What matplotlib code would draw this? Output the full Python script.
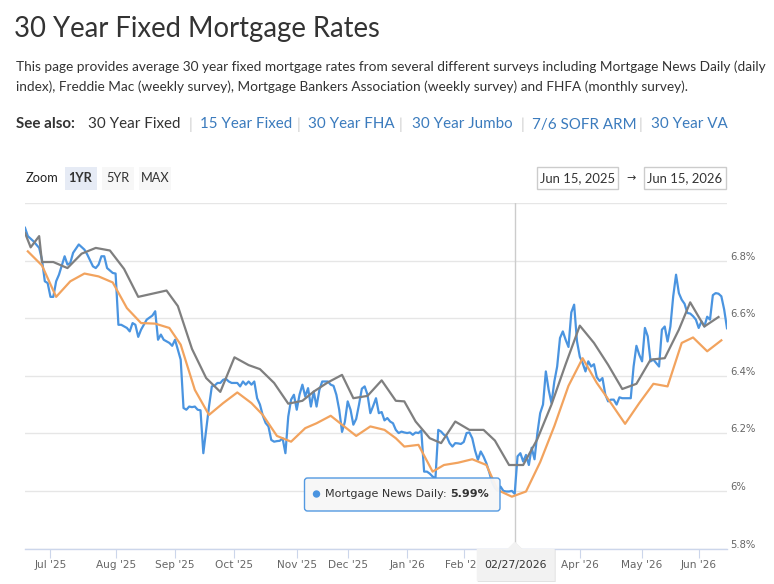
import numpy as np
import matplotlib
matplotlib.use("Agg")
import matplotlib.pyplot as plt
from matplotlib.patches import FancyBboxPatch, Polygon, Circle, Rectangle
from matplotlib.transforms import Affine2D, blended_transform_factory, ScaledTranslation

W, H = 774, 584
HEAD_FONT = ['Liberation Sans Narrow', 'Lato', 'DejaVu Sans']
CHART_FONT = ['DejaVu Sans']

# ordinal x axis: one step per business day, like the original chart
START = '2025-06-16'
HOLIDAYS = ['2025-06-19', '2025-09-01', '2025-10-13', '2025-11-11', '2025-11-27',
            '2025-12-25', '2025-12-26', '2026-01-01', '2026-01-19', '2026-02-16',
            '2026-05-25']

SERIES_NAMES = ['Mortgage News Daily', 'Freddie Mac', 'MBA']
COLORS = ['#4a94e0', '#f2a35e', '#7f7f7f']

MND_DATES = [
    '2025-06-17', '2025-06-18', '2025-06-23', '2025-06-25', '2025-06-26', '2025-06-27', '2025-06-30',
    '2025-07-01', '2025-07-02', '2025-07-03', '2025-07-04', '2025-07-08', '2025-07-09', '2025-07-10',
    '2025-07-11', '2025-07-15', '2025-07-17', '2025-07-18', '2025-07-22', '2025-07-23', '2025-07-24',
    '2025-07-25', '2025-07-28', '2025-07-29', '2025-07-31',
    '2025-08-01', '2025-08-04', '2025-08-05', '2025-08-07', '2025-08-08', '2025-08-11', '2025-08-12',
    '2025-08-13', '2025-08-14', '2025-08-18', '2025-08-20', '2025-08-21', '2025-08-22', '2025-08-25',
    '2025-08-26', '2025-08-28', '2025-08-29',
    '2025-09-02', '2025-09-03', '2025-09-04', '2025-09-05', '2025-09-08', '2025-09-09', '2025-09-10',
    '2025-09-11', '2025-09-12', '2025-09-15', '2025-09-16', '2025-09-17', '2025-09-18', '2025-09-19',
    '2025-09-22', '2025-09-23', '2025-09-24', '2025-09-25', '2025-09-26', '2025-09-29', '2025-09-30',
    '2025-10-01', '2025-10-02', '2025-10-03', '2025-10-06', '2025-10-07', '2025-10-08', '2025-10-09',
    '2025-10-10', '2025-10-14', '2025-10-15', '2025-10-16', '2025-10-17', '2025-10-20', '2025-10-21',
    '2025-10-22', '2025-10-23', '2025-10-24', '2025-10-27', '2025-10-28', '2025-10-29', '2025-10-30',
    '2025-10-31',
    '2025-11-03', '2025-11-04', '2025-11-05', '2025-11-06', '2025-11-07', '2025-11-10', '2025-11-12',
    '2025-11-13', '2025-11-14', '2025-11-17', '2025-11-18', '2025-11-19', '2025-11-20', '2025-11-21',
    '2025-11-24', '2025-11-25', '2025-11-26', '2025-11-28',
    '2025-12-01', '2025-12-02', '2025-12-03', '2025-12-04', '2025-12-05', '2025-12-08', '2025-12-09',
    '2025-12-10', '2025-12-11', '2025-12-12', '2025-12-15', '2025-12-16', '2025-12-17', '2025-12-18',
    '2025-12-19', '2025-12-22', '2025-12-23', '2025-12-24', '2025-12-29', '2025-12-30', '2025-12-31',
    '2026-01-02', '2026-01-05', '2026-01-06', '2026-01-07', '2026-01-08', '2026-01-09', '2026-01-12',
    '2026-01-13', '2026-01-14', '2026-01-15', '2026-01-16', '2026-01-20', '2026-01-21', '2026-01-22',
    '2026-01-23', '2026-01-26', '2026-01-27', '2026-01-28', '2026-01-29', '2026-01-30',
    '2026-02-02', '2026-02-03', '2026-02-04', '2026-02-05', '2026-02-06', '2026-02-09', '2026-02-10',
    '2026-02-11', '2026-02-12', '2026-02-13', '2026-02-17', '2026-02-18', '2026-02-19', '2026-02-20',
    '2026-02-23', '2026-02-24', '2026-02-25', '2026-02-26', '2026-02-27',
    '2026-03-02', '2026-03-03', '2026-03-04', '2026-03-05', '2026-03-06', '2026-03-09', '2026-03-10',
    '2026-03-11', '2026-03-12', '2026-03-13', '2026-03-16', '2026-03-17', '2026-03-18', '2026-03-19',
    '2026-03-20', '2026-03-23', '2026-03-24', '2026-03-25', '2026-03-26', '2026-03-27', '2026-03-30',
    '2026-03-31',
    '2026-04-01', '2026-04-02', '2026-04-03', '2026-04-06', '2026-04-07', '2026-04-08', '2026-04-09',
    '2026-04-10', '2026-04-13', '2026-04-14', '2026-04-15', '2026-04-16', '2026-04-17', '2026-04-20',
    '2026-04-21', '2026-04-22', '2026-04-23', '2026-04-24', '2026-04-27', '2026-04-28', '2026-04-29',
    '2026-04-30',
    '2026-05-01', '2026-05-04', '2026-05-05', '2026-05-06', '2026-05-07', '2026-05-08', '2026-05-11',
    '2026-05-12', '2026-05-13', '2026-05-14', '2026-05-15', '2026-05-18', '2026-05-19', '2026-05-20',
    '2026-05-21', '2026-05-22', '2026-05-26', '2026-05-27', '2026-05-28', '2026-05-29',
    '2026-06-01', '2026-06-02', '2026-06-03', '2026-06-04', '2026-06-05', '2026-06-08', '2026-06-09',
    '2026-06-10', '2026-06-11', '2026-06-12', '2026-06-15',
]
MND_RATES = [
    6.914, 6.885, 6.867, 6.844, 6.803, 6.728, 6.722,
    6.674, 6.674, 6.728, 6.751, 6.815, 6.786, 6.792,
    6.827, 6.856, 6.838, 6.821, 6.780, 6.774, 6.786,
    6.815, 6.815, 6.774, 6.757,
    6.755, 6.577, 6.577, 6.566, 6.554, 6.583, 6.577,
    6.535, 6.560, 6.595, 6.609, 6.624, 6.525, 6.543,
    6.525, 6.514, 6.504,
    6.525, 6.490, 6.456, 6.288, 6.282, 6.293, 6.291,
    6.293, 6.282, 6.280, 6.131, 6.212, 6.293, 6.363,
    6.366, 6.375, 6.375, 6.386, 6.389, 6.380, 6.375,
    6.375, 6.375, 6.363, 6.380, 6.369, 6.380, 6.369,
    6.380, 6.322, 6.300, 6.262, 6.236, 6.224, 6.177,
    6.171, 6.173, 6.174, 6.183, 6.131, 6.258, 6.317,
    6.334,
    6.282, 6.335, 6.369, 6.328, 6.357, 6.293, 6.345,
    6.293, 6.351, 6.380, 6.380, 6.380, 6.369, 6.365,
    6.334, 6.282, 6.205, 6.240,
    6.311, 6.282, 6.230, 6.250, 6.300, 6.355, 6.363,
    6.334, 6.270, 6.295, 6.322, 6.270, 6.274, 6.245,
    6.253, 6.241, 6.235, 6.212, 6.201, 6.206, 6.203,
    6.201, 6.203, 6.195, 6.203, 6.201, 6.210, 6.067,
    6.067, 6.060, 6.050, 6.044, 6.212, 6.206, 6.195,
    6.189, 6.166, 6.154, 6.166, 6.165, 6.163,
    6.170, 6.201, 6.203, 6.183, 6.140, 6.108, 6.137,
    6.119, 6.096, 6.065, 6.030, 6.010, 6.000, 6.015,
    6.000, 5.998, 5.998, 6.000, 5.990,
    6.120, 6.131, 6.102, 6.125, 6.090, 6.150, 6.110,
    6.200, 6.270, 6.300, 6.415, 6.351, 6.305, 6.380,
    6.432, 6.531, 6.554, 6.525, 6.500, 6.620, 6.647,
    6.520,
    6.466, 6.444, 6.415, 6.450, 6.432, 6.440, 6.395,
    6.382, 6.392, 6.335, 6.311, 6.317, 6.317, 6.300,
    6.325, 6.322, 6.322, 6.322, 6.322, 6.432, 6.504,
    6.473,
    6.450, 6.566, 6.537, 6.450, 6.456, 6.444, 6.432,
    6.560, 6.571, 6.519, 6.571, 6.676, 6.751, 6.687,
    6.664, 6.650, 6.618, 6.616, 6.607, 6.595,
    6.566, 6.589, 6.571, 6.605, 6.595, 6.680, 6.687,
    6.685, 6.676, 6.630, 6.565,
]

FREDDIE_DATES = [
    '2025-06-18', '2025-06-26', '2025-07-03', '2025-07-10', '2025-07-17', '2025-07-24', '2025-07-31',
    '2025-08-07', '2025-08-14', '2025-08-21', '2025-08-28', '2025-09-04', '2025-09-11', '2025-09-18',
    '2025-09-25', '2025-10-02', '2025-10-09', '2025-10-16', '2025-10-23', '2025-10-30', '2025-11-06',
    '2025-11-13', '2025-11-20', '2025-11-26', '2025-12-04', '2025-12-11', '2025-12-18', '2025-12-24',
    '2025-12-31', '2026-01-08', '2026-01-15', '2026-01-22', '2026-01-29', '2026-02-05', '2026-02-12',
    '2026-02-19', '2026-02-26', '2026-03-05', '2026-03-12', '2026-03-19', '2026-03-26', '2026-04-02',
    '2026-04-09', '2026-04-16', '2026-04-23', '2026-04-30', '2026-05-07', '2026-05-14', '2026-05-21',
    '2026-05-28', '2026-06-04', '2026-06-11',
]
FREDDIE_RATES = [
    6.832, 6.783, 6.674, 6.728, 6.755, 6.745, 6.724,
    6.635, 6.583, 6.581, 6.566, 6.508, 6.351, 6.264,
    6.305, 6.342, 6.305, 6.264, 6.191, 6.171, 6.218,
    6.235, 6.261, 6.230, 6.191, 6.224, 6.212, 6.183,
    6.154, 6.160, 6.067, 6.090, 6.098, 6.110, 6.090,
    6.003, 5.980, 5.998, 6.100, 6.225, 6.365, 6.461,
    6.375, 6.305, 6.233, 6.305, 6.372, 6.363, 6.514,
    6.533, 6.485, 6.523,
]

MBA_DATES = [
    '2025-06-17', '2025-06-20', '2025-06-25', '2025-06-26', '2025-07-02', '2025-07-09', '2025-07-16',
    '2025-07-23', '2025-07-30', '2025-08-06', '2025-08-13', '2025-08-27', '2025-09-03', '2025-09-10',
    '2025-09-17', '2025-09-24', '2025-10-01', '2025-10-08', '2025-10-15', '2025-10-22', '2025-10-29',
    '2025-11-05', '2025-11-12', '2025-11-19', '2025-11-26', '2025-12-03', '2025-12-10', '2025-12-17',
    '2025-12-24', '2025-12-31', '2026-01-07', '2026-01-14', '2026-01-21', '2026-01-28', '2026-02-04',
    '2026-02-11', '2026-02-18', '2026-02-25', '2026-03-04', '2026-03-11', '2026-03-18', '2026-03-25',
    '2026-04-01', '2026-04-08', '2026-04-15', '2026-04-22', '2026-04-29', '2026-05-06', '2026-05-13',
    '2026-05-20', '2026-05-27', '2026-06-03', '2026-06-10',
]
MBA_RATES = [
    6.896, 6.846, 6.885, 6.795, 6.795, 6.774, 6.824,
    6.844, 6.835, 6.771, 6.674, 6.696, 6.642, 6.493,
    6.392, 6.344, 6.464, 6.437, 6.423, 6.375, 6.303,
    6.313, 6.345, 6.377, 6.403, 6.322, 6.330, 6.384,
    6.313, 6.311, 6.241, 6.183, 6.166, 6.241, 6.212,
    6.212, 6.175, 6.090, 6.090, 6.180, 6.300, 6.440,
    6.574, 6.514, 6.438, 6.354, 6.372, 6.456, 6.461,
    6.560, 6.655, 6.571, 6.604,
]

MONTH_STARTS = ['2025-07-01', '2025-08-01', '2025-09-01', '2025-10-01', '2025-11-01', '2025-12-01',
                '2026-01-01', '2026-02-01', '2026-03-01', '2026-04-01', '2026-05-01', '2026-06-01']
MONTH_LABELS = ["Jul '25", "Aug '25", "Sep '25", "Oct '25", "Nov '25", "Dec '25",
                "Jan '26", "Feb '26", "Mar '26", "Apr '26", "May '26", "Jun '26"]
Y_TICKS = [5.8, 6.0, 6.2, 6.4, 6.6, 6.8, 7.0]
Y_LABELS = ['5.8%', '6%', '6.2%', '6.4%', '6.6%', '6.8%', '']

HOVER_DATE = '2026-02-27'
HOVER_LABEL = '02/27/2026'
RANGE_FROM = 'Jun 15, 2025'
RANGE_TO = 'Jun 15, 2026'
ZOOM_BUTTONS = ['1YR', '5YR', 'MAX']

TITLE = '30 Year Fixed Mortgage Rates'
INTRO = ['This page provides average 30 year fixed mortgage rates from several different surveys including Mortgage News Daily (daily',
         'index), Freddie Mac (weekly survey), Mortgage Bankers Association (weekly survey) and FHFA (monthly survey).']
SEE_ALSO = ['30 Year Fixed', '15 Year Fixed', '30 Year FHA', '30 Year Jumbo', '7/6 SOFR ARM', '30 Year VA']


def bday(dates):
    return np.busday_count(START, np.array(dates, dtype='datetime64[D]'), holidays=HOLIDAYS)


fig = plt.figure(figsize=(W / 100, H / 100), dpi=100)
fig.patch.set_facecolor('white')
rend = fig.canvas.get_renderer()
# pixel coords, origin top-left
T = Affine2D().scale(1, -1).translate(0, H) + Affine2D().scale(1 / W, 1 / H) + fig.transFigure


def fitted(s, width, weight='normal', family=HEAD_FONT):
    t = fig.text(0, 0, s, fontsize=10, fontweight=weight, family=family)
    w = t.get_window_extent(renderer=rend).width
    t.remove()
    return 10 * width / w


# ---- page header ----
fig.text(14, 37.5, TITLE, transform=T, family=HEAD_FONT, color='#333333',
         fontsize=fitted(TITLE, 366), va='baseline')
fs_p = fitted(INTRO[0], 749)
fig.text(16, 71, INTRO[0], transform=T, family=HEAD_FONT, color='#333333', fontsize=fs_p, va='baseline')
fig.text(16, 91, INTRO[1], transform=T, family=HEAD_FONT, color='#333333', fontsize=fs_p, va='baseline')

fs_s = fitted(SEE_ALSO[3], 100)
fig.text(16, 128.5, 'See also:', transform=T, family=HEAD_FONT, color='#333333',
         fontsize=fs_s, fontweight='bold', va='baseline')
link_x = [88, 199.5, 308.5, 412, 532, 651]
sep_x = [190.5, 299, 401, 522, 641]
for i, (lx, name) in enumerate(zip(link_x, SEE_ALSO)):
    fig.text(lx, 128.5, name, transform=T, family=HEAD_FONT, fontsize=fs_s, va='baseline',
             color='#333333' if i == 0 else '#3b7bbd')
for sx in sep_x:
    fig.text(sx, 128.5, '|', transform=T, family=HEAD_FONT, fontsize=fs_s, va='baseline',
             color='#cccccc', ha='center')

# ---- range selector ----
fs_z = fitted('Zoom', 33)
fig.text(26, 178, 'Zoom', transform=T, family=HEAD_FONT, fontsize=fs_z, color='#222222', va='center')
btn_x = [(64.5, 96.5), (101.5, 133.5), (139, 171)]
for i, ((x0, x1), lab) in enumerate(zip(btn_x, ZOOM_BUTTONS)):
    fig.add_artist(Rectangle((x0, 166.5), x1 - x0, 23, transform=T,
                             fc='#e6ebf5' if i == 0 else '#f7f7f7', ec='none'))
    fig.text((x0 + x1) / 2, 178, lab, transform=T, family=HEAD_FONT, fontsize=fs_z,
             color='#333333', ha='center', va='center', fontweight='bold' if i == 0 else 'normal')

fs_d = fitted(RANGE_FROM, 75)
for (x0, x1), lab in zip([(536.5, 618), (643.5, 725.5)], [RANGE_FROM, RANGE_TO]):
    fig.add_artist(Rectangle((x0, 166.5), x1 - x0, 22, transform=T, fc='white', ec='#cccccc', lw=1))
    fig.text(x0 + 3.5, 178, lab, transform=T, family=HEAD_FONT, fontsize=fs_d,
             color='#333333', va='center')
fig.text(631, 178, '\u2192', transform=T, family=CHART_FONT, fontsize=8, color='#333333',
         ha='center', va='center')

# ---- chart ----
ax = fig.add_axes([25 / W, 1 - 548.5 / H, 702 / W, 345.5 / H])
ax.set_facecolor('white')

x_mnd = bday(MND_DATES)
x_fm = bday(FREDDIE_DATES)
x_mba = bday(MBA_DATES)

ax.plot(x_mnd, MND_RATES, color=COLORS[0], lw=1.6, solid_joinstyle='round', zorder=3)
ax.plot(x_fm, FREDDIE_RATES, color=COLORS[1], lw=1.6, solid_joinstyle='round', zorder=3)
ax.plot(x_mba, MBA_RATES, color=COLORS[2], lw=1.6, solid_joinstyle='round', zorder=3)

ax.set_xlim(x_mnd[0], x_mnd[-1])
ax.set_ylim(Y_TICKS[0], Y_TICKS[-1])

ax.set_yticks(Y_TICKS)
ax.tick_params(axis='y', left=False, labelleft=False)
ax.grid(axis='y', color='#e6e6e6', lw=1)
ax.set_axisbelow(True)

ax.set_xticks(bday(MONTH_STARTS))
ax.set_xticklabels(MONTH_LABELS)
ax.tick_params(axis='x', length=6.5, width=0.8, color='#ccd6eb', labelsize=7.6,
               labelcolor='#666666', pad=2)
for lab in ax.get_xticklabels():
    lab.set_family(CHART_FONT)

for side in ['left', 'right', 'top']:
    ax.spines[side].set_visible(False)
ax.spines['bottom'].set_color('#ccd6eb')
ax.spines['bottom'].set_linewidth(1)

ylab_tr = blended_transform_factory(ax.transAxes, ax.transData) + \
    ScaledTranslation(3 / 100, 4 / 100, fig.dpi_scale_trans)
for v, lab in zip(Y_TICKS, Y_LABELS):
    ax.text(1.0, v, lab, transform=ylab_tr, fontsize=7.2, color='#666666',
            ha='left', va='center', family=CHART_FONT, clip_on=False)

# crosshair and tooltip
hx = bday([HOVER_DATE])[0]
hv = MND_RATES[MND_DATES.index(HOVER_DATE)]
ax.axvline(hx, color='#cccccc', lw=1, zorder=2)

fig.canvas.draw()
cx = ax.transData.transform((hx, Y_TICKS[0]))[0]

fig.add_artist(FancyBboxPatch((304.5, 478), 195.5, 33, boxstyle='round,pad=0,rounding_size=3',
                              transform=T, fc='#f7f7f7', ec=COLORS[0], lw=1, alpha=0.95))
fig.add_artist(Circle((316.5, 494), 3, transform=T, color=COLORS[0]))
t1 = fig.text(325, 494, SERIES_NAMES[0] + ': ', transform=T, family=CHART_FONT, fontsize=8,
              color='#333333', va='center')
bb = t1.get_window_extent(renderer=rend)
fig.text(bb.x1, 494, f'{hv:.2f}%', transform=T, family=CHART_FONT, fontsize=8,
         color='#333333', va='center', fontweight='bold')

# x-axis hover label (covers the month label beneath it)
bx0, bx1, by0, by1 = cx - 38, cx + 40, 549, 581
for lab in ax.get_xticklabels():
    lx = lab.get_window_extent(renderer=rend)
    if bx0 < (lx.x0 + lx.x1) / 2 < bx1:
        lab.set_visible(False)
shape = [(bx0, by0), (cx - 7.5, by0), (cx, by0 - 7.5), (cx + 7.5, by0), (bx1, by0), (bx1, by1), (bx0, by1)]
fig.add_artist(Polygon([(px + 1, py + 1) for px, py in shape], closed=True, transform=T,
                       fc='#e2e2e2', ec='none'))
fig.add_artist(Polygon(shape, closed=True, transform=T, fc='#f2f2f2', ec='none'))
fig.text(cx + 1, 565, HOVER_LABEL, transform=T, family=CHART_FONT, fontsize=7.8,
         color='#333333', ha='center', va='center')

fig.savefig('out.png', dpi=100, facecolor='white')
